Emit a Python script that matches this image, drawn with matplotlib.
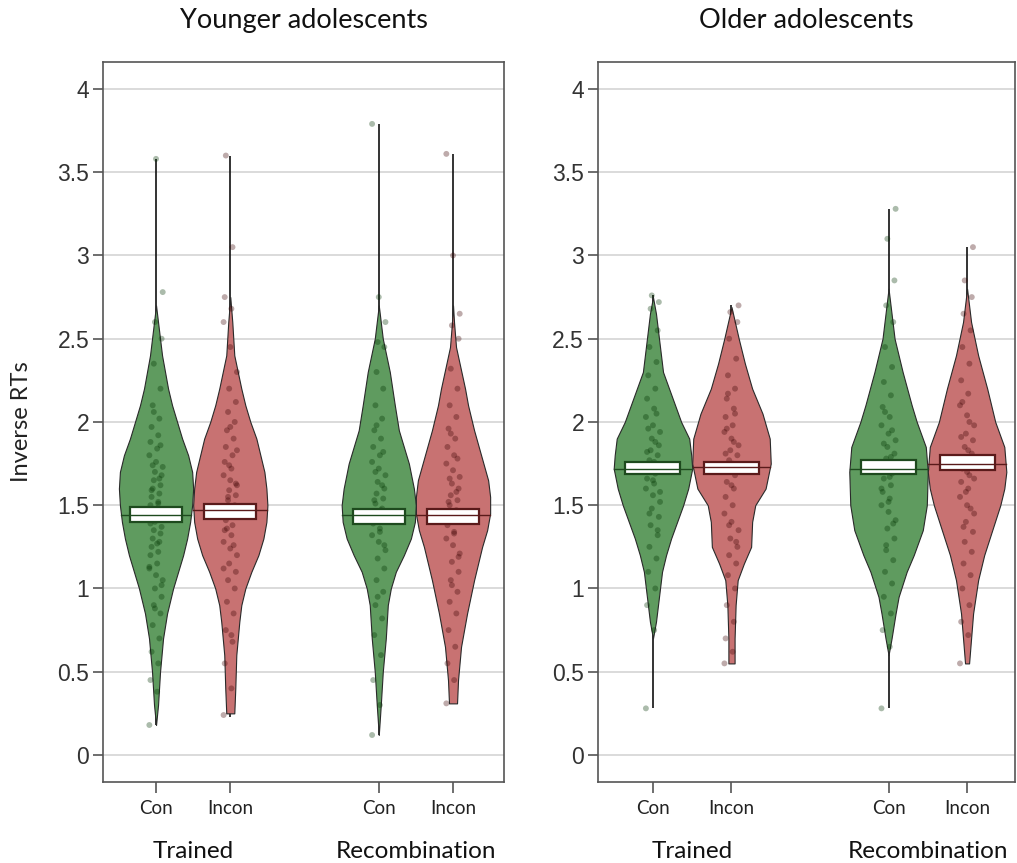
import matplotlib.pyplot as plt
import numpy as np
from matplotlib.patches import Rectangle
from matplotlib.transforms import blended_transform_factory


PANEL_TITLES = ["Younger adolescents", "Older adolescents"]
CONDITION_LABELS = ["Con", "Incon", "Con", "Incon"]
BLOCK_LABELS = ["Trained", "Recombination"]
Y_TICKS = [0, 0.5, 1, 1.5, 2, 2.5, 3, 3.5, 4]
Y_TICK_LABELS = ["0", "0.5", "1", "1.5", "2", "2.5", "3", "3.5", "4"]

# violin outlines: levels (inverse RT) and relative density
young_con_trained_levels = [0.18, 0.3, 0.5, 0.7, 0.85, 1.0, 1.1, 1.2, 1.3, 1.4, 1.5, 1.6, 1.7, 1.8, 1.9, 2.0, 2.1, 2.2, 2.4, 2.6, 2.7]
young_con_trained_density = [0, 2, 4, 7, 11, 17, 22, 27, 31, 34, 36, 37, 36, 32, 26, 21, 16, 12, 6, 2, 0]
young_incon_trained_levels = [0.25, 0.4, 0.6, 0.8, 0.9, 1.0, 1.1, 1.2, 1.3, 1.4, 1.5, 1.6, 1.7, 1.8, 1.9, 2.0, 2.1, 2.2, 2.4, 2.6, 2.75]
young_incon_trained_density = [4, 5, 6, 9, 11, 15, 21, 28, 33, 36, 37, 36, 34, 30, 26, 20, 15, 11, 4, 2, 0]
young_con_recomb_levels = [0.12, 0.3, 0.5, 0.7, 0.9, 1.0, 1.1, 1.2, 1.3, 1.4, 1.5, 1.6, 1.75, 1.85, 1.95, 2.1, 2.3, 2.5, 2.7]
young_con_recomb_density = [0, 2, 4, 7, 9, 12, 17, 25, 32, 36, 37, 35, 30, 25, 20, 16, 11, 4, 0]
young_incon_recomb_levels = [0.31, 0.45, 0.65, 0.85, 1.05, 1.15, 1.25, 1.35, 1.45, 1.55, 1.65, 1.8, 1.95, 2.1, 2.2, 2.45, 2.6, 2.7]
young_incon_recomb_density = [4, 5, 8, 14, 21, 25, 29, 34, 37, 37, 35, 28, 21, 15, 12, 3, 1, 0]

older_con_trained_levels = [0.7, 0.8, 0.9, 1.1, 1.2, 1.3, 1.4, 1.5, 1.6, 1.72, 1.8, 1.9, 2.0, 2.1, 2.3, 2.5, 2.65, 2.75]
older_con_trained_density = [0, 3, 5, 9, 13, 18, 24, 30, 35, 39, 38, 36, 28, 22, 10, 6, 3, 0]
older_incon_trained_levels = [0.55, 0.7, 0.9, 1.05, 1.15, 1.25, 1.4, 1.5, 1.6, 1.75, 1.9, 2.05, 2.2, 2.35, 2.5, 2.69]
older_incon_trained_density = [3, 3, 4, 6, 12, 19, 20, 23, 33, 38, 37, 30, 20, 13, 7, 0]
older_con_recomb_levels = [0.6, 0.7, 0.85, 0.95, 1.1, 1.2, 1.35, 1.5, 1.7, 1.85, 2.0, 2.1, 2.3, 2.5, 2.7, 2.8]
older_con_recomb_density = [0, 3, 7, 10, 18, 25, 34, 38, 39, 37, 28, 23, 14, 6, 2, 0]
older_incon_recomb_levels = [0.55, 0.7, 0.85, 1.05, 1.2, 1.35, 1.5, 1.6, 1.7, 1.85, 2.0, 2.2, 2.4, 2.6, 2.8]
older_incon_recomb_density = [2, 4, 6, 11, 17, 25, 33, 37, 39, 37, 28, 20, 11, 4, 0]

# individual participants
young_con_trained_points = [0.18, 0.38, 0.45, 0.55, 0.62, 0.7, 0.78, 0.85, 0.9, 0.95, 1.0, 1.05, 1.08, 1.12,
                            1.15, 1.2, 1.22, 1.25, 1.28, 1.3, 1.33, 1.35, 1.37, 1.4, 1.42, 1.44, 1.46, 1.48,
                            1.5, 1.52, 1.55, 1.57, 1.6, 1.62, 1.65, 1.68, 1.7, 1.73, 1.76, 1.8, 1.84, 1.88,
                            1.92, 1.97, 2.02, 2.1, 2.2, 2.35, 2.5, 2.6, 2.78, 3.58,
                            1.13, 1.27, 1.39, 1.51, 1.59, 1.66, 1.74, 1.86, 2.06, 1.02, 0.88]
young_incon_trained_points = [0.24, 0.4, 0.55, 0.68, 0.75, 0.85, 0.92, 1.0, 1.05, 1.1, 1.15, 1.2, 1.24, 1.28,
                              1.32, 1.35, 1.38, 1.41, 1.44, 1.47, 1.5, 1.53, 1.56, 1.59, 1.62, 1.65, 1.68,
                              1.72, 1.76, 1.8, 1.85, 1.9, 1.95, 2.0, 2.06, 2.12, 2.2, 2.3, 2.45, 2.6, 2.68,
                              2.75, 3.05, 3.6, 1.26, 1.36, 1.46, 1.55, 1.63, 1.74, 1.83, 1.97, 1.12, 0.72]
young_con_recomb_points = [0.12, 0.3, 0.45, 0.6, 0.72, 0.82, 0.9, 0.98, 1.05, 1.12, 1.18, 1.23, 1.28, 1.32,
                           1.36, 1.39, 1.42, 1.45, 1.48, 1.51, 1.54, 1.57, 1.6, 1.64, 1.68, 1.72, 1.76, 1.8,
                           1.85, 1.9, 1.95, 2.02, 2.1, 2.2, 2.3, 2.45, 2.48, 2.6, 2.75, 3.79,
                           1.34, 1.41, 1.47, 1.53, 1.62, 1.7, 1.82, 1.98, 1.26, 0.95]
young_incon_recomb_points = [0.31, 0.45, 0.55, 0.65, 0.75, 0.85, 0.92, 0.98, 1.05, 1.1, 1.16, 1.21, 1.26, 1.3,
                             1.34, 1.38, 1.41, 1.44, 1.47, 1.5, 1.53, 1.56, 1.6, 1.63, 1.67, 1.71, 1.75, 1.8,
                             1.85, 1.9, 1.96, 2.03, 2.1, 2.2, 2.32, 2.5, 2.58, 2.65, 3.0, 3.61,
                             1.33, 1.4, 1.46, 1.52, 1.58, 1.66, 1.78, 1.93, 1.19, 1.02]
older_con_trained_points = [0.28, 0.75, 0.9, 1.0, 1.1, 1.18, 1.25, 1.32, 1.38, 1.43, 1.48, 1.52, 1.56, 1.6,
                            1.63, 1.66, 1.69, 1.72, 1.74, 1.77, 1.8, 1.83, 1.86, 1.9, 1.94, 1.98, 2.03, 2.08,
                            2.14, 2.2, 2.28, 2.36, 2.45, 2.55, 2.68, 2.72, 2.76,
                            1.58, 1.65, 1.71, 1.76, 1.82, 1.88, 1.96, 2.05, 1.45, 1.35]
older_incon_trained_points = [0.55, 0.62, 0.7, 0.8, 0.9, 1.0, 1.08, 1.15, 1.2, 1.25, 1.3, 1.35, 1.4, 1.45,
                              1.5, 1.55, 1.6, 1.64, 1.68, 1.71, 1.74, 1.77, 1.8, 1.83, 1.86, 1.9, 1.94, 1.98,
                              2.03, 2.08, 2.14, 2.2, 2.28, 2.38, 2.5, 2.6, 2.66, 2.7,
                              1.62, 1.7, 1.75, 1.81, 1.88, 1.96, 2.05, 2.17, 1.28, 1.38]
older_con_recomb_points = [0.28, 0.65, 0.75, 0.85, 0.95, 1.03, 1.1, 1.17, 1.23, 1.3, 1.36, 1.41, 1.46, 1.5,
                           1.54, 1.58, 1.62, 1.66, 1.69, 1.72, 1.75, 1.78, 1.81, 1.85, 1.89, 1.93, 1.98,
                           2.03, 2.09, 2.16, 2.24, 2.33, 2.45, 2.6, 2.7, 2.85, 3.1, 3.28,
                           1.52, 1.6, 1.67, 1.73, 1.79, 1.87, 1.95, 2.06, 1.39, 1.26]
older_incon_recomb_points = [0.55, 0.72, 0.8, 0.9, 1.0, 1.08, 1.15, 1.22, 1.28, 1.34, 1.4, 1.45, 1.5, 1.55,
                             1.6, 1.64, 1.68, 1.72, 1.75, 1.78, 1.81, 1.85, 1.89, 1.93, 1.98, 2.04, 2.1,
                             2.17, 2.25, 2.35, 2.45, 2.55, 2.65, 2.75, 2.85, 3.05,
                             1.58, 1.66, 1.7, 1.76, 1.83, 1.91, 2.0, 2.12, 1.48, 1.37]

# summary values per condition (Con/Incon trained, Con/Incon recombination)
young_medians = [1.44, 1.47, 1.44, 1.44]
young_ci_low = [1.40, 1.42, 1.39, 1.39]
young_ci_high = [1.49, 1.51, 1.48, 1.48]
young_min = [0.18, 0.23, 0.12, 0.31]
young_max = [3.58, 3.60, 3.79, 3.61]

older_medians = [1.72, 1.73, 1.72, 1.75]
older_ci_low = [1.69, 1.69, 1.69, 1.71]
older_ci_high = [1.76, 1.76, 1.77, 1.80]
older_min = [0.28, 0.55, 0.28, 0.55]
older_max = [2.76, 2.70, 3.28, 3.05]

POSITIONS = [1, 2, 4, 5]
FILL_COLORS = ["#5f9b5f", "#c87272", "#5f9b5f", "#c87272"]
DARK_COLORS = ["#1e4a1e", "#5a1a1a", "#1e4a1e", "#5a1a1a"]
POINT_COLORS = ["#003300", "#3a0000", "#003300", "#3a0000"]
TEXT_FONT = ["Lato", "DejaVu Sans"]
TICK_FONT = ["Liberation Sans", "DejaVu Sans"]


def draw_panel(ax, title, levels, densities, points, medians, ci_low, ci_high, vmin, vmax, xlim):
    for i, pos in enumerate(POSITIONS):
        lv = np.asarray(levels[i], dtype=float)
        half = np.asarray(densities[i], dtype=float)
        half = half / half.max() * 0.5

        ax.plot([pos, pos], [vmin[i], vmax[i]], color="#111111", lw=1.2, zorder=2, solid_capstyle="butt")
        ax.fill_betweenx(lv, pos - half, pos + half, facecolor=FILL_COLORS[i],
                         edgecolor="#2a2a2a", lw=0.8, zorder=3)

        pts = np.asarray(points[i], dtype=float)
        jitter = (((np.arange(len(pts)) * 7) % 13) - 6) / 6 * 0.09
        ax.scatter(pos + jitter, pts, s=18, color=POINT_COLORS[i], alpha=0.33,
                   edgecolors="none", zorder=4)

        ax.add_patch(Rectangle((pos - 0.35, ci_low[i]), 0.7, ci_high[i] - ci_low[i],
                               facecolor="white", edgecolor=DARK_COLORS[i], lw=1.6, zorder=5))
        w = np.interp(medians[i], lv, half)
        ax.plot([pos - w, pos + w], [medians[i], medians[i]], color=DARK_COLORS[i], lw=1.0, zorder=6)

    ax.set_xlim(*xlim)
    ax.set_ylim(-0.162, 4.162)
    ax.set_yticks(Y_TICKS)
    ax.set_yticklabels(Y_TICK_LABELS, fontsize=16.5, color="#333333", family=TICK_FONT)
    ax.set_xticks(POSITIONS)
    ax.set_xticklabels(CONDITION_LABELS, fontsize=13.5, color="#222222", family=TEXT_FONT)
    ax.yaxis.grid(True, color="#d4d4d4", lw=1.2, zorder=0)
    ax.set_axisbelow(True)
    ax.tick_params(axis="y", length=7, width=1.2, color="#555555", pad=3)
    ax.tick_params(axis="x", length=8, width=1.2, color="#555555", pad=5)
    for spine in ax.spines.values():
        spine.set_color("#555555")
        spine.set_linewidth(1.2)

    ax.text(0.5, 1.058, title, transform=ax.transAxes, ha="center", va="center",
            fontsize=19.5, family=TEXT_FONT, color="#111111")
    trans = blended_transform_factory(ax.transData, ax.transAxes)
    for label, (a, b) in zip(BLOCK_LABELS, [(POSITIONS[0], POSITIONS[1]), (POSITIONS[2], POSITIONS[3])]):
        ax.text((a + b) / 2, -0.096, label, transform=trans, ha="center", va="center",
                fontsize=17.5, family=TEXT_FONT, color="#111111")


fig = plt.figure(figsize=(10.17, 8.63), dpi=100)
ax_young = fig.add_axes([0.1013, 0.0939, 0.3943, 0.8343])
ax_older = fig.add_axes([0.588, 0.0939, 0.41, 0.8343])

draw_panel(
    ax_young, PANEL_TITLES[0],
    [young_con_trained_levels, young_incon_trained_levels, young_con_recomb_levels, young_incon_recomb_levels],
    [young_con_trained_density, young_incon_trained_density, young_con_recomb_density, young_incon_recomb_density],
    [young_con_trained_points, young_incon_trained_points, young_con_recomb_points, young_incon_recomb_points],
    young_medians, young_ci_low, young_ci_high, young_min, young_max,
    (0.286, 5.687),
)
draw_panel(
    ax_older, PANEL_TITLES[1],
    [older_con_trained_levels, older_incon_trained_levels, older_con_recomb_levels, older_incon_recomb_levels],
    [older_con_trained_density, older_incon_trained_density, older_con_recomb_density, older_incon_recomb_density],
    [older_con_trained_points, older_incon_trained_points, older_con_recomb_points, older_incon_recomb_points],
    older_medians, older_ci_low, older_ci_high, older_min, older_max,
    (0.30, 5.61),
)

fig.text(0.0216, 0.511, "Inverse RTs", rotation=90, ha="center", va="center",
         fontsize=17, family=TEXT_FONT, color="#222222")

fig.savefig("out.png", dpi=100, facecolor="white")
plt.close(fig)
